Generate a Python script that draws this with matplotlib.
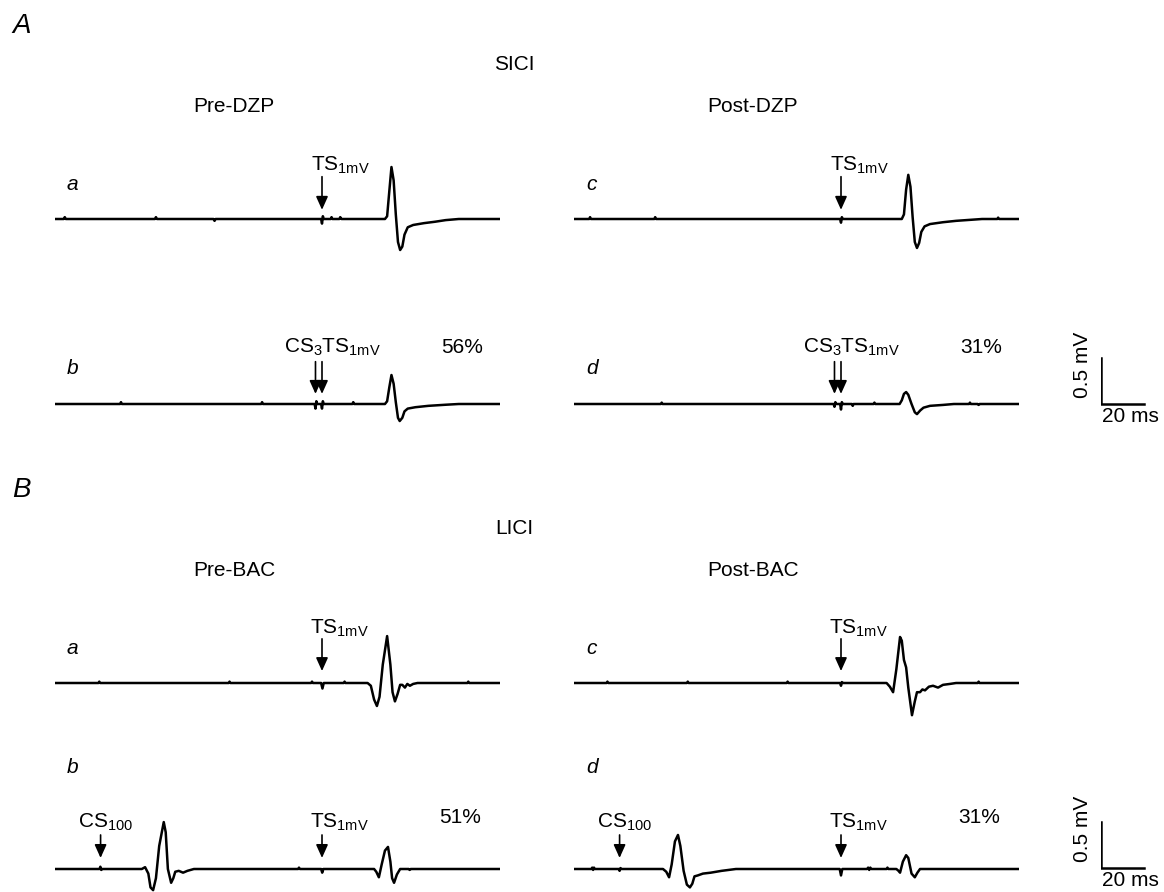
import matplotlib
matplotlib.use('Agg')
import matplotlib.pyplot as plt

plt.rcParams['font.family'] = ['Liberation Sans', 'DejaVu Sans']
plt.rcParams['mathtext.fontset'] = 'custom'
plt.rcParams['mathtext.rm'] = 'Liberation Sans'
plt.rcParams['mathtext.it'] = 'Liberation Sans:italic'
plt.rcParams['mathtext.default'] = 'regular'

# traces, (time ms, amplitude mV)
sici_pre_a = [(0, 0), (4, 0), (4.5, 0.02), (5, 0), (46, 0), (46.5, 0.02), (47, 0), (73, 0), (73.5, -0.02), (74, 0),
              (122.6, 0), (123, -0.05), (123.4, 0.03), (123.8, 0), (127, 0), (127.4, 0.02), (127.8, 0),
              (131, 0), (131.4, 0.02), (132, 0), (152, 0), (153, 0.03), (154, 0.3), (155, 0.565), (156, 0.42),
              (157, 0.05), (158, -0.25), (159, -0.337), (160, -0.3), (161, -0.17), (162.5, -0.09), (165, -0.065),
              (170, -0.045), (175, -0.03), (180, -0.012), (186, 0), (205, 0)]
sici_pre_b = [(0, 0), (30, 0), (30.4, 0.02), (30.8, 0), (95, 0), (95.4, 0.02), (95.8, 0), (119.6, 0), (120, -0.05),
              (120.4, 0.03), (120.8, 0), (122.6, 0), (123, -0.05), (123.4, 0.03), (123.8, 0), (137, 0),
              (137.4, 0.02), (137.8, 0), (152, 0), (153, 0.03), (154, 0.18), (155, 0.315), (156, 0.22), (157, 0.02),
              (158, -0.15), (158.8, -0.185), (160, -0.15), (161, -0.08), (162.5, -0.05), (166, -0.035),
              (172, -0.02), (180, -0.008), (186, 0), (205, 0)]
sici_post_c = [(0, 0), (7, 0), (7.4, 0.02), (7.8, 0), (37, 0), (37.4, 0.02), (37.8, 0), (122.6, 0), (123, -0.04),
               (123.4, 0.02), (123.8, 0), (151, 0), (152, 0.05), (153, 0.32), (154, 0.48), (155, 0.35), (156, 0.02),
               (157, -0.25), (158, -0.315), (159, -0.26), (160, -0.14), (161.5, -0.08), (164, -0.055),
               (170, -0.035), (176, -0.02), (182, -0.01), (188, 0), (195, 0), (195.4, 0.015), (195.8, 0), (205, 0)]
sici_post_d = [(0, 0), (40, 0), (40.4, 0.015), (40.8, 0), (119.6, 0), (120, -0.03), (120.4, 0.02), (120.8, 0),
               (122.6, 0), (123, -0.06), (123.4, 0.02), (123.8, 0), (128, 0), (128.4, -0.02), (128.8, 0),
               (138, 0), (138.4, 0.015), (138.8, 0), (150, 0), (151, 0.04), (152, 0.11), (153, 0.13), (154, 0.1),
               (155.5, 0.0), (157, -0.09), (158, -0.11), (159.5, -0.07), (161, -0.04), (164, -0.02), (170, -0.01),
               (175, 0), (182, 0), (182.4, 0.015), (182.8, 0), (186, 0), (186.4, -0.01), (186.8, 0), (205, 0)]

lici_pre_a = [(0, 0), (20, 0), (20.4, 0.015), (20.8, 0), (80, 0), (80.4, 0.015), (80.8, 0), (118, 0),
              (118.4, 0.015), (118.8, 0), (122.6, 0), (123.2, -0.06), (123.8, 0), (133, 0), (133.4, 0.015),
              (133.8, 0), (144, 0), (145.5, -0.03), (147, -0.18), (148.3, -0.25), (149.5, -0.15), (151, 0.2),
              (153, 0.51), (154.5, 0.2), (155.5, -0.1), (156.6, -0.2), (157.8, -0.12), (159, -0.02), (160, -0.02),
              (161.2, -0.05), (162.3, -0.01), (163.5, -0.03), (165, -0.01), (167, 0), (190, 0), (190.4, 0.015),
              (190.8, 0), (205, 0)]
lici_post_c = [(0, 0), (15, 0), (15.4, 0.015), (15.8, 0), (52, 0), (52.4, 0.015), (52.8, 0), (98, 0),
               (98.4, 0.015), (98.8, 0), (122.6, 0), (123, -0.03), (123.4, 0.01), (123.8, 0), (144, 0),
               (145.5, -0.04), (147, -0.1), (148.5, 0.15), (150.2, 0.5), (151, 0.46), (152, 0.25), (153, 0.17),
               (154, -0.05), (155.7, -0.35), (157, -0.2), (158, -0.1), (159.4, -0.1), (160.5, -0.07),
               (161.7, -0.08), (163.5, -0.04), (165.4, -0.03), (167.7, -0.05), (170, -0.02), (173.2, -0.01),
               (176, 0), (186, 0), (186.4, 0.015), (186.8, 0), (205, 0)]
lici_pre_b = [(0, 0), (20.5, 0), (20.9, 0.025), (21.3, -0.01), (21.7, 0), (40, 0), (41.5, 0.02), (43, -0.05),
              (44, -0.2), (45.2, -0.23), (46.5, -0.1), (48, 0.25), (50.1, 0.51), (51, 0.4), (52, 0.0),
              (53.5, -0.15), (54.5, -0.1), (55.4, -0.03), (57, -0.02), (59, -0.04), (61, -0.02), (64, 0),
              (112, 0), (112.4, 0.015), (112.8, 0), (122.6, 0), (123.1, -0.04), (123.6, 0), (147, 0),
              (148, -0.03), (149.2, -0.09), (150.5, 0.05), (152, 0.2), (153.4, 0.24), (154.5, 0.08),
              (155.3, -0.1), (156.2, -0.15), (157.5, -0.06), (159, 0), (163, 0), (163.4, -0.01), (163.8, 0),
              (205, 0)]
lici_post_d = [(0, 0), (8, 0), (8.4, 0.015), (8.8, -0.01), (9.2, 0.015), (9.6, 0), (20.6, 0), (21, -0.02),
               (21.4, 0.01), (21.8, 0), (41, 0), (42.5, -0.03), (43.8, -0.09), (45, 0.05), (46.5, 0.3),
               (47.9, 0.37), (49, 0.25), (50.5, -0.02), (52, -0.17), (53.4, -0.2), (54.5, -0.16), (55.5, -0.08),
               (57, -0.07), (59.4, -0.05), (63, -0.04), (68, -0.02), (74.6, 0), (122.4, 0), (123, -0.07),
               (123.6, 0), (135, 0), (135.5, 0.015), (136, -0.01), (136.5, 0.015), (137, 0), (144, 0),
               (144.4, 0.015), (144.8, 0), (148.5, 0), (149.5, -0.02), (150.2, -0.04), (151.5, 0.08), (153, 0.15),
               (154, 0.12), (155.5, -0.05), (157, -0.09), (158.2, -0.04), (159.4, 0), (205, 0)]

ts_time = 123
cs3_time = 120
cs100_time = 21
percent_sici = ["56%", "31%"]
percent_lici = ["51%", "31%"]

W, H = 1164, 892
PX_MS = 445 / 205
PX_MV = 92

fig = plt.figure(figsize=(W / 100, H / 100), dpi=100)


def trace_ax(x0, base, length=205, up=0.9, down=0.6):
    ax = fig.add_axes([x0 / W, (H - base - down * PX_MV) / H, length * PX_MS / W, (up + down) * PX_MV / H])
    ax.set_xlim(0, length)
    ax.set_ylim(-down, up)
    ax.axis('off')
    return ax


def draw(ax, pts):
    ax.plot([p[0] for p in pts], [p[1] for p in pts], color='black', lw=1.8, solid_joinstyle='round')


def arrow(ax, t, top, tip):
    ax.annotate('', xy=(t, tip), xytext=(t, top),
                arrowprops=dict(arrowstyle='-|>,head_length=0.4,head_width=0.18', mutation_scale=20,
                                lw=1.2, color='black', shrinkA=0, shrinkB=0))


def ftext(x, y, s, **kw):
    fig.text(x / W, 1 - y / H, s, **kw)


FS = 15
LEFT, RIGHT = 55, 574

# ---- A: SICI
ftext(12, 26, 'A', fontsize=20, style='italic', va='center')
ftext(514, 64, 'SICI', fontsize=FS, ha='center', va='center')
ftext(234, 106, 'Pre-DZP', fontsize=FS, ha='center', va='center')
ftext(753, 106, 'Post-DZP', fontsize=FS, ha='center', va='center')

for x0, lab, pts in [(LEFT, 'a', sici_pre_a), (RIGHT, 'c', sici_post_c)]:
    ax = trace_ax(x0, 219)
    draw(ax, pts)
    ax.text(5.5, 0.38, lab, fontsize=FS, style='italic', va='center')
    arrow(ax, ts_time, 0.46, 0.10)
    ax.text(ts_time - 5, 0.53, 'TS$_{1mV}$', fontsize=FS, va='baseline')

for x0, lab, pts, pc in [(LEFT, 'b', sici_pre_b, percent_sici[0]), (RIGHT, 'd', sici_post_d, percent_sici[1])]:
    ax = trace_ax(x0, 404)
    draw(ax, pts)
    ax.text(5.5, 0.39, lab, fontsize=FS, style='italic', va='center')
    arrow(ax, cs3_time, 0.46, 0.11)
    arrow(ax, ts_time, 0.46, 0.11)
    ax.text(cs3_time - 14.3, 0.56, 'CS$_3$TS$_{1mV}$', fontsize=FS, va='baseline')
    ax.text(178, 0.55, pc, fontsize=FS, va='baseline')

# ---- B: LICI
ftext(12, 490, 'B', fontsize=20, style='italic', va='center')
ftext(514, 528, 'LICI', fontsize=FS, ha='center', va='center')
ftext(234, 570, 'Pre-BAC', fontsize=FS, ha='center', va='center')
ftext(753, 570, 'Post-BAC', fontsize=FS, ha='center', va='center')

for x0, lab, pts in [(LEFT, 'a', lici_pre_a), (RIGHT, 'c', lici_post_c)]:
    ax = trace_ax(x0, 683)
    draw(ax, pts)
    ax.text(5.5, 0.38, lab, fontsize=FS, style='italic', va='center')
    arrow(ax, ts_time, 0.48, 0.13)
    ax.text(ts_time - 5.5, 0.54, 'TS$_{1mV}$', fontsize=FS, va='baseline')

for x0, lab, pts, pc in [(LEFT, 'b', lici_pre_b, percent_lici[0]), (RIGHT, 'd', lici_post_d, percent_lici[1])]:
    ax = trace_ax(x0, 869)
    draw(ax, pts)
    ax.text(5.5, 1.1, lab, fontsize=FS, style='italic', va='center')
    arrow(ax, cs100_time, 0.37, 0.12)
    arrow(ax, ts_time, 0.37, 0.12)
    ax.text(cs100_time - 10.6, 0.45, 'CS$_{100}$', fontsize=FS, va='baseline')
    ax.text(ts_time - 5.5, 0.45, 'TS$_{1mV}$', fontsize=FS, va='baseline')
    ax.text(177, 0.5, pc, fontsize=FS, va='baseline')

# scale bars 20 ms / 0.5 mV
for base in [404, 868]:
    ax = trace_ax(1101, base, length=30)
    ax.plot([0, 0, 20], [0.5, 0, 0], color='black', lw=1.8, solid_joinstyle='miter')
    ax.text(0.3, -0.03, '20 ms', fontsize=FS, va='top', ha='left')
    ax.text(-8.3, 0.42, '0.5 mV', fontsize=FS, va='center', ha='center', rotation=90)

fig.savefig('out.png', dpi=100)
